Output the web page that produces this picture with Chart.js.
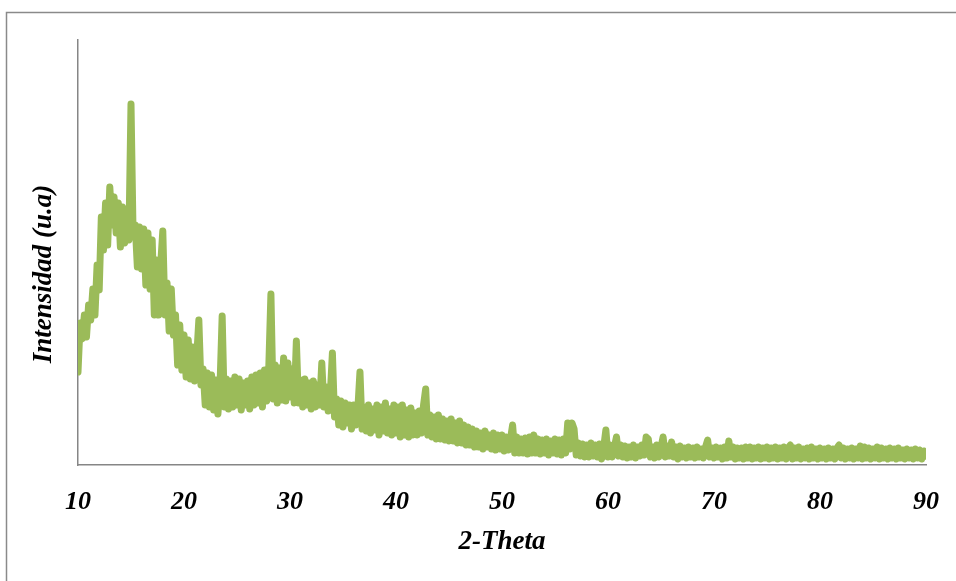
<!DOCTYPE html>
<html>
<head>
<meta charset="utf-8">
<title>2-Theta</title>
<script src="https://cdn.jsdelivr.net/npm/chart.js@4/dist/chart.umd.min.js"></script>
<style>
  html, body { margin: 0; padding: 0; background: #ffffff; }
  #wrap { width: 956px; height: 581px; }
</style>
</head>
<body>
<div id="wrap"><canvas id="xrd" width="956" height="581"></canvas></div>
<script>
// Scan grid (degrees 2θ)
const thetaStart = 10;
const thetaStep = 0.2;

// Diffracted intensity (a.u.), one value per grid step, 10.0° → 90.0°
const intensity10to30 = [
  93, 142, 126, 150, 128, 160, 145, 176, 150, 200,
  175, 248, 215, 262, 220, 278, 240, 268, 232, 262,
  218, 258, 222, 252, 225, 361, 228, 240, 198, 238,
  196, 236, 180, 232, 176, 225, 150, 205, 150, 200,
  234, 150, 182, 134, 176, 130, 150, 100, 140, 95,
  130, 88, 125, 86, 118, 84, 108, 145, 80, 96,
  60, 92, 58, 90, 55, 85, 51, 80, 149, 58,
  86, 56, 84, 58, 88, 60, 86, 55, 82, 60,
  84, 56, 88, 60, 90, 62, 92, 58, 95, 64,
  98, 171, 66, 100, 62, 97, 65, 107, 64, 102
];
const intensity30to50 = [
  68, 96, 62, 124, 62, 85, 58, 86, 60, 82,
  56, 84, 58, 80, 60, 102, 58, 78, 54, 70,
  112, 48, 66, 40, 64, 38, 62, 42, 60, 36,
  60, 40, 56, 93, 36, 58, 34, 60, 32, 56,
  35, 60, 30, 58, 34, 62, 32, 56, 30, 60,
  32, 58, 28, 60, 30, 55, 28, 57, 30, 52,
  30, 54, 32, 60, 76, 30, 50, 28, 48, 26,
  50, 26, 46, 25, 44, 24, 46, 24, 42, 22,
  44, 22, 40, 20, 38, 20, 36, 18, 34, 18,
  32, 16, 34, 18, 30, 16, 32, 15, 30, 16
];
const intensity50to70 = [
  30, 14, 28, 15, 26, 40, 12, 28, 12, 26,
  12, 27, 11, 28, 12, 30, 12, 26, 11, 25,
  12, 26, 10, 24, 12, 26, 11, 25, 10, 26,
  12, 42, 16, 42, 36, 10, 22, 9, 21, 8,
  20, 8, 22, 9, 20, 8, 21, 6, 18, 35,
  8, 20, 8, 18, 28, 9, 20, 8, 19, 7,
  18, 8, 20, 7, 18, 9, 20, 10, 28, 26,
  8, 18, 7, 20, 8, 18, 28, 8, 19, 9,
  23, 8, 18, 6, 19, 8, 17, 7, 18, 8,
  17, 7, 18, 8, 16, 7, 18, 25, 8, 17
];
const intensity70to90 = [
  7, 18, 8, 17, 6, 18, 7, 24, 8, 18,
  6, 17, 7, 17, 6, 18, 7, 18, 6, 17,
  7, 18, 6, 17, 7, 18, 6, 17, 7, 18,
  6, 17, 7, 18, 6, 17, 20, 6, 17, 7,
  18, 6, 16, 7, 17, 6, 18, 7, 16, 6,
  17, 7, 16, 6, 17, 7, 16, 6, 17, 20,
  7, 17, 6, 16, 7, 17, 6, 16, 7, 19,
  6, 18, 7, 17, 6, 16, 7, 18, 6, 17,
  7, 16, 6, 17, 7, 16, 6, 17, 7, 15,
  6, 16, 7, 15, 6, 16, 7, 15, 6, 14,
  9
];

// Axis ticks and titles
const xTicks = [10, 20, 30, 40, 50, 60, 70, 80, 90];
const xTitle = '2-Theta';
const yTitle = 'Intensidad (u.a)';

const intensity = [].concat(intensity10to30, intensity30to50, intensity50to70, intensity70to90);
const points = intensity.map((v, i) => ({ x: +(thetaStart + i * thetaStep).toFixed(1), y: v }));

const labelFont = '"Liberation Serif", "DejaVu Serif", serif';

// Outer frame and rotated y-axis title
const decor = {
  id: 'decor',
  beforeDraw(chart) {
    const ctx = chart.ctx;
    ctx.save();
    ctx.fillStyle = '#ffffff';
    ctx.fillRect(0, 0, chart.width, chart.height);
    ctx.strokeStyle = '#8a8a8a';
    ctx.lineWidth = 1.5;
    ctx.strokeRect(6.5, 12.5, chart.width + 20, chart.height + 20);
    ctx.restore();
  },
  afterDraw(chart) {
    const ctx = chart.ctx;
    ctx.save();
    ctx.translate(44, 274);
    ctx.rotate(-Math.PI / 2);
    ctx.font = 'italic bold 27px ' + labelFont;
    ctx.fillStyle = '#000000';
    ctx.textAlign = 'center';
    ctx.textBaseline = 'middle';
    ctx.fillText(yTitle, 0, 0);
    ctx.restore();
  }
};

new Chart(document.getElementById('xrd'), {
  type: 'line',
  data: {
    datasets: [{
      data: points,
      borderColor: '#9BBB59',
      borderWidth: 7,
      borderJoinStyle: 'round',
      borderCapStyle: 'round',
      pointRadius: 0,
      tension: 0,
      fill: false
    }]
  },
  options: {
    responsive: false,
    animation: false,
    devicePixelRatio: 1,
    layout: { padding: { left: 8, right: 30, top: 40, bottom: 0 } },
    plugins: { legend: { display: false }, tooltip: { enabled: false } },
    scales: {
      x: {
        type: 'linear',
        min: 10,
        max: 90,
        afterFit(scale) {
          scale.height = 116;
          scale.paddingLeft = 0;
          scale.paddingRight = 0;
        },
        afterBuildTicks(scale) { scale.ticks = xTicks.map(v => ({ value: v })); },
        grid: { display: false, drawTicks: false },
        border: { display: true, color: '#868686', width: 1.5 },
        ticks: {
          padding: 22,
          color: '#000000',
          font: { family: labelFont, size: 26, weight: 'bold', style: 'italic' },
          maxRotation: 0
        },
        title: {
          display: true,
          text: xTitle,
          color: '#000000',
          font: { family: labelFont, size: 27, weight: 'bold', style: 'italic' },
          padding: { top: 0, bottom: 23 }
        }
      },
      y: {
        min: 0,
        max: 425,
        afterFit(scale) { scale.width = 70; },
        grid: { display: false, drawTicks: false },
        border: { display: true, color: '#868686', width: 1.5 },
        ticks: { display: false }
      }
    }
  },
  plugins: [decor]
});
</script>
</body>
</html>
